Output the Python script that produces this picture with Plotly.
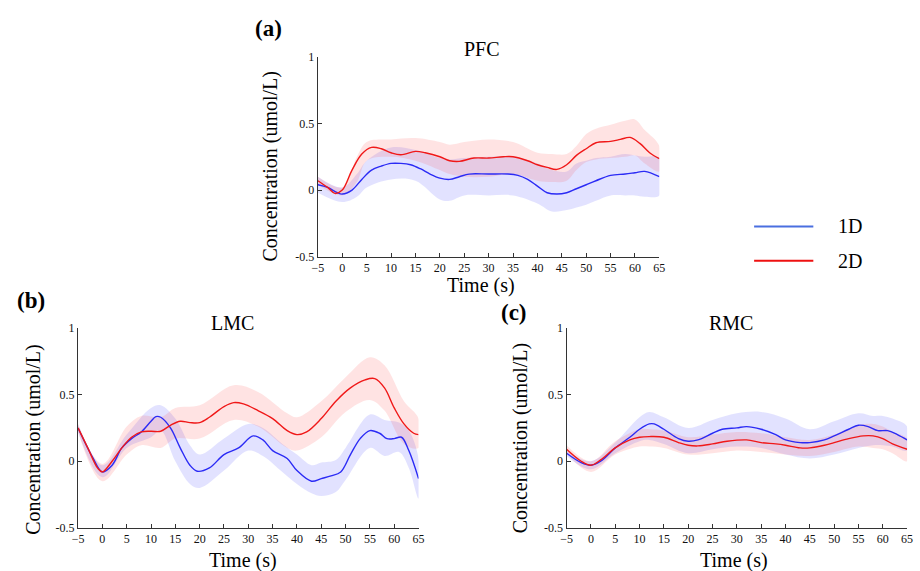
import plotly.graph_objects as go

# ---------------- data ----------------
# PFC (a)
pfc_t_1d = [-5, -3, -1, 0, 2, 4, 6, 8, 10, 12, 14, 16, 18, 20, 22, 24, 26, 30, 34, 36, 38, 40, 42, 44, 46, 48, 50, 52, 55, 58, 60, 62, 65]
pfc_1d = [0.04, 0.02, -0.02, -0.03, 0.00, 0.08, 0.15, 0.18, 0.20, 0.20, 0.19, 0.16, 0.12, 0.09, 0.08, 0.10, 0.12, 0.12, 0.12, 0.11, 0.08, 0.03, -0.02, -0.03, -0.02, 0.01, 0.04, 0.07, 0.11, 0.12, 0.13, 0.14, 0.10]
pfc_t_2d = [-5, -3, -1.5, 0, 2, 4, 6, 8, 10, 12, 15, 17, 20, 22, 24, 27, 30, 33, 35, 38, 40, 42, 44, 46, 48, 50, 52, 55, 57, 59, 61, 63, 65]
pfc_2d = [0.07, 0.02, -0.025, 0.00, 0.15, 0.27, 0.32, 0.31, 0.28, 0.265, 0.29, 0.28, 0.25, 0.22, 0.215, 0.24, 0.24, 0.25, 0.25, 0.22, 0.19, 0.17, 0.155, 0.19, 0.26, 0.31, 0.355, 0.365, 0.38, 0.395, 0.35, 0.28, 0.235]
pfc_band_t = [-5, 0, 3, 5, 10, 15, 20, 22, 25, 30, 35, 40, 43, 46, 48, 50, 52, 55, 58, 60, 62, 65]
pfc_1d_hi = [0.10, 0.02, 0.12, 0.22, 0.32, 0.30, 0.24, 0.23, 0.24, 0.25, 0.25, 0.20, 0.15, 0.14, 0.20, 0.22, 0.24, 0.25, 0.27, 0.26, 0.25, 0.24]
pfc_1d_lo = [-0.02, -0.09, -0.05, 0.02, 0.08, 0.07, -0.07, -0.08, -0.04, -0.04, -0.04, -0.10, -0.16, -0.15, -0.13, -0.11, -0.08, -0.04, -0.04, -0.04, -0.05, -0.04]
pfc_2d_hi = [0.10, 0.02, 0.25, 0.36, 0.38, 0.39, 0.36, 0.34, 0.36, 0.38, 0.36, 0.28, 0.27, 0.27, 0.33, 0.42, 0.46, 0.49, 0.52, 0.53, 0.45, 0.33]
pfc_2d_lo = [0.04, -0.04, 0.06, 0.22, 0.25, 0.22, 0.15, 0.12, 0.10, 0.10, 0.12, 0.07, 0.06, 0.07, 0.15, 0.21, 0.23, 0.24, 0.25, 0.26, 0.20, 0.14]

# LMC (b)
lmc_t_1d = [-5, -2, 0, 2, 4, 6, 8, 10, 11, 12, 14, 16, 18, 19.5, 22, 25, 28, 31, 33, 35, 38, 40, 43, 45, 47, 49, 51, 53, 55, 57, 58.5, 60, 61.5, 63, 65]
lmc_1d = [0.25, 0.03, -0.08, -0.03, 0.10, 0.17, 0.22, 0.30, 0.335, 0.33, 0.25, 0.10, -0.03, -0.075, -0.05, 0.05, 0.10, 0.19, 0.16, 0.08, 0.02, -0.07, -0.15, -0.13, -0.11, -0.08, 0.05, 0.17, 0.23, 0.21, 0.17, 0.17, 0.18, 0.08, -0.13]
lmc_t_2d = [-5, -3, -1, 0, 2, 4, 6, 8, 10, 12, 14, 16, 18, 20, 22, 25, 27, 29, 32, 35, 38, 40, 42, 45, 48, 51, 54, 56, 58, 60, 62, 64, 65]
lmc_2d = [0.25, 0.10, -0.05, -0.08, 0.00, 0.10, 0.18, 0.22, 0.225, 0.225, 0.27, 0.30, 0.29, 0.29, 0.33, 0.41, 0.44, 0.43, 0.38, 0.32, 0.23, 0.20, 0.22, 0.32, 0.45, 0.55, 0.61, 0.62, 0.55, 0.40, 0.28, 0.21, 0.20]
lmc_band_t_1d = [-5, 0, 5, 10, 12, 15, 18, 20, 25, 30, 33, 37, 40, 43, 45, 48, 50, 55, 58, 61, 63, 65]
lmc_1d_hi = [0.28, -0.03, 0.20, 0.40, 0.42, 0.32, 0.12, 0.05, 0.17, 0.28, 0.25, 0.13, 0.05, -0.03, -0.01, 0.01, 0.10, 0.35, 0.31, 0.29, 0.23, 0.02]
lmc_1d_lo = [0.22, -0.12, 0.10, 0.18, 0.23, 0.00, -0.17, -0.20, -0.07, 0.08, 0.04, -0.08, -0.17, -0.24, -0.26, -0.23, -0.14, 0.10, 0.04, 0.07, -0.05, -0.28]
lmc_band_t_2d = [-5, 0, 5, 8, 12, 15, 20, 27, 32, 38, 40, 45, 50, 55, 58, 62, 65]
lmc_2d_hi = [0.28, -0.02, 0.26, 0.34, 0.33, 0.40, 0.42, 0.57, 0.52, 0.36, 0.33, 0.45, 0.63, 0.78, 0.72, 0.45, 0.32]
lmc_2d_lo = [0.22, -0.15, 0.05, 0.12, 0.10, 0.17, 0.17, 0.31, 0.26, 0.10, 0.08, 0.18, 0.37, 0.46, 0.38, 0.13, 0.10]

# RMC (c)
rmc_t_1d = [-5, -2, 0, 2, 5, 8, 10, 12, 13, 15, 18, 20, 22, 25, 27, 30, 32, 35, 38, 40, 43, 45, 48, 50, 53, 55, 57, 59, 61, 63, 65]
rmc_1d = [0.06, -0.01, -0.03, 0.00, 0.10, 0.18, 0.24, 0.28, 0.28, 0.24, 0.17, 0.15, 0.16, 0.21, 0.24, 0.25, 0.26, 0.24, 0.20, 0.16, 0.14, 0.14, 0.16, 0.19, 0.24, 0.27, 0.26, 0.23, 0.23, 0.20, 0.16]
rmc_t_2d = [-5, -2, 0, 2, 5, 8, 10, 12, 15, 18, 20, 22, 25, 28, 32, 35, 38, 40, 43, 45, 48, 50, 53, 56, 58, 60, 62, 65]
rmc_2d = [0.09, 0.00, -0.03, 0.01, 0.10, 0.16, 0.18, 0.185, 0.18, 0.14, 0.12, 0.115, 0.13, 0.15, 0.16, 0.14, 0.13, 0.12, 0.10, 0.10, 0.12, 0.14, 0.17, 0.19, 0.19, 0.17, 0.13, 0.09]
rmc_band_t = [-5, 0, 5, 10, 12, 15, 20, 25, 30, 35, 40, 45, 50, 55, 58, 60, 62, 65]
rmc_1d_hi = [0.08, 0.00, 0.14, 0.33, 0.37, 0.33, 0.25, 0.31, 0.36, 0.37, 0.32, 0.24, 0.30, 0.36, 0.34, 0.34, 0.32, 0.26]
rmc_1d_lo = [0.04, -0.06, 0.06, 0.15, 0.16, 0.13, 0.06, 0.09, 0.11, 0.10, 0.05, 0.02, 0.05, 0.10, 0.12, 0.12, 0.11, 0.08]
rmc_2d_hi = [0.12, 0.00, 0.15, 0.24, 0.24, 0.23, 0.18, 0.20, 0.22, 0.21, 0.18, 0.16, 0.20, 0.27, 0.28, 0.26, 0.22, 0.17]
rmc_2d_lo = [0.06, -0.08, 0.05, 0.11, 0.11, 0.10, 0.05, 0.06, 0.08, 0.07, 0.05, 0.04, 0.07, 0.11, 0.10, 0.09, 0.06, 0.00]

x_ticks = list(range(-5, 70, 5))
y_ticks = [-0.5, 0, 0.5, 1]
y_tick_text = ["-0.5", "0", "0.5", "1"]
series_names = ["1D", "2D"]

# ---------------- style ----------------
FONT = "Liberation Serif"
BLUE = "#2b2bf5"
RED = "#f01818"
BLUE_FILL = "rgba(50,50,255,0.14)"
RED_FILL = "rgba(255,70,70,0.15)"
W, H = 920, 571


def px_x(p):
    return p / W


def px_y(p):
    return 1 - p / H


fig = go.Figure()

panels = [
    # (xaxis id, yaxis id, domain x px, domain y px, data)
    ("x", "y", (316, 662), (51, 256),
     (pfc_t_1d, pfc_1d, pfc_t_2d, pfc_2d, pfc_band_t, pfc_1d_hi, pfc_1d_lo, pfc_band_t, pfc_2d_hi, pfc_2d_lo)),
    ("x2", "y2", (73, 418), (329, 534),
     (lmc_t_1d, lmc_1d, lmc_t_2d, lmc_2d, lmc_band_t_1d, lmc_1d_hi, lmc_1d_lo, lmc_band_t_2d, lmc_2d_hi, lmc_2d_lo)),
    ("x3", "y3", (568, 913), (329, 534),
     (rmc_t_1d, rmc_1d, rmc_t_2d, rmc_2d, rmc_band_t, rmc_1d_hi, rmc_1d_lo, rmc_band_t, rmc_2d_hi, rmc_2d_lo)),
]

for xa, ya, (x0, x1), (ytop, ybot), d in panels:
    t1, m1, t2, m2, bt1, hi1, lo1, bt2, hi2, lo2 = d
    # shaded error bands
    for bt, hi, lo, fc in ((bt1, hi1, lo1, BLUE_FILL), (bt2, hi2, lo2, RED_FILL)):
        fig.add_trace(go.Scatter(
            x=bt + bt[::-1], y=hi + lo[::-1], fill="toself", fillcolor=fc,
            mode="lines", line=dict(width=0, shape="spline", smoothing=1.0),
            hoverinfo="skip", showlegend=False, xaxis=xa, yaxis=ya))
    # mean curves
    fig.add_trace(go.Scatter(x=t1, y=m1, mode="lines", name=series_names[0],
                             line=dict(color=BLUE, width=1.4, shape="spline"),
                             showlegend=False, xaxis=xa, yaxis=ya))
    fig.add_trace(go.Scatter(x=t2, y=m2, mode="lines", name=series_names[1],
                             line=dict(color=RED, width=1.4, shape="spline"),
                             showlegend=False, xaxis=xa, yaxis=ya))

    axis_common = dict(showline=True, linecolor="#333333", linewidth=1.3,
                       ticks="inside", ticklen=4, tickcolor="#333333",
                       showgrid=False, zeroline=False,
                       tickfont=dict(family=FONT, size=12, color="#111111"))
    key_x = "xaxis" if xa == "x" else "xaxis" + xa[1:]
    key_y = "yaxis" if ya == "y" else "yaxis" + ya[1:]
    fig.layout[key_x] = dict(domain=[px_x(x0), px_x(x1)], range=[-5, 65],
                             tickvals=x_ticks, anchor=ya, **axis_common)
    fig.layout[key_y] = dict(domain=[px_y(ybot), px_y(ytop)], range=[-0.5, 1],
                             tickvals=y_ticks, ticktext=y_tick_text, anchor=xa,
                             **axis_common)

annotations = []


def text(x, y, s, size=20, bold=False, angle=0):
    annotations.append(dict(
        x=px_x(x), y=px_y(y), xref="paper", yref="paper", text=f"<b>{s}</b>" if bold else s,
        showarrow=False, xanchor="center", yanchor="middle", textangle=angle,
        font=dict(family=FONT, size=size, color="#000000")))


# panel letters
text(266, 22, "(a)", 23, bold=True)
text(25, 301, "(b)", 23, bold=True)
text(515, 313, "(c)", 23, bold=True)
# panel titles
text(482, 43, "PFC", 20)
text(229, 324, "LMC", 20)
text(735, 324, "RMC", 20)
# axis titles
text(267, 163, "Concentration (umol/L)", 20, angle=-90)
text(27, 443, "Concentration (umol/L)", 20, angle=-90)
text(521, 442, "Concentration (umol/L)", 20, angle=-90)
text(481, 286, "Time (s)", 20)
text(240, 567, "Time (s)", 20)
text(738, 567, "Time (s)", 20)
# legend labels
text(855, 225, series_names[0], 20)
text(855, 260, series_names[1], 20)

shapes = [
    dict(type="line", xref="paper", yref="paper", x0=px_x(758), x1=px_x(818),
         y0=px_y(225), y1=px_y(225), line=dict(color="#4a6fe0", width=2)),
    dict(type="line", xref="paper", yref="paper", x0=px_x(758), x1=px_x(818),
         y0=px_y(260), y1=px_y(260), line=dict(color="#ee1111", width=2)),
]

fig.update_layout(
    width=W, height=H, margin=dict(l=0, r=0, t=0, b=0),
    paper_bgcolor="white", plot_bgcolor="white",
    showlegend=False, annotations=annotations, shapes=shapes,
    font=dict(family=FONT),
)

fig.write_html("out.html")
